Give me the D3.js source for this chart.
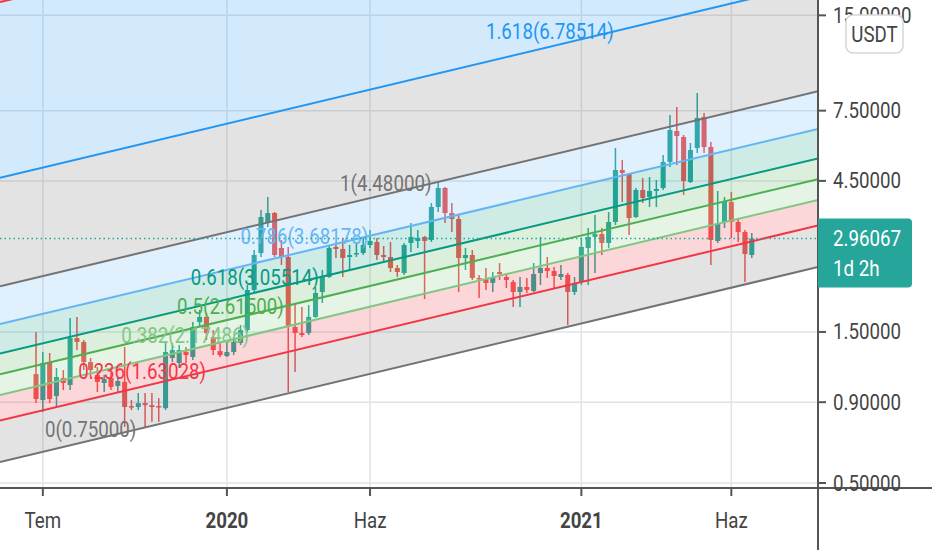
<!DOCTYPE html>
<html><head><meta charset="utf-8">
<script src="https://cdn.jsdelivr.net/npm/d3@7"></script>
<style>html,body{margin:0;padding:0;background:#fff;overflow:hidden}svg{display:block;font-family:Roboto,"Noto Sans",sans-serif}</style>
</head><body>
<svg id="chart" width="932" height="550"></svg>
<script>
// ---------- DATA ----------
const dates = ["2019-06-24","2019-07-01","2019-07-08","2019-07-15","2019-07-22","2019-07-29","2019-08-05","2019-08-12","2019-08-19","2019-08-26","2019-09-02","2019-09-09","2019-09-16","2019-09-23","2019-09-30","2019-10-07","2019-10-14","2019-10-21","2019-10-28","2019-11-04","2019-11-11","2019-11-18","2019-11-25","2019-12-02","2019-12-09","2019-12-16","2019-12-23","2019-12-30",
"2020-01-06","2020-01-13","2020-01-20","2020-01-27","2020-02-03","2020-02-10","2020-02-17","2020-02-24","2020-03-02","2020-03-09","2020-03-16","2020-03-23","2020-03-30","2020-04-06","2020-04-13","2020-04-20","2020-04-27","2020-05-04","2020-05-11","2020-05-18","2020-05-25","2020-06-01","2020-06-08","2020-06-15","2020-06-22","2020-06-29","2020-07-06","2020-07-13","2020-07-20","2020-07-27","2020-08-03","2020-08-10","2020-08-17","2020-08-24","2020-08-31","2020-09-07","2020-09-14","2020-09-21","2020-09-28","2020-10-05","2020-10-12","2020-10-19","2020-10-26","2020-11-02","2020-11-09","2020-11-16","2020-11-23","2020-11-30","2020-12-07","2020-12-14","2020-12-21","2020-12-28",
"2021-01-04","2021-01-11","2021-01-18","2021-01-25","2021-02-01","2021-02-08","2021-02-15","2021-02-22","2021-03-01","2021-03-08","2021-03-15","2021-03-22","2021-03-29","2021-04-05","2021-04-12","2021-04-19","2021-04-26","2021-05-03","2021-05-10","2021-05-17","2021-05-24","2021-05-31","2021-06-07","2021-06-14","2021-06-21","2021-06-28"];

const open  = [1.104,0.914,1.205,0.941,1.073,1.020,1.435,1.395,1.205,1.096,1.035,1.073,1.013,1.043,0.875,0.869,0.894,0.881,0.875,0.862,
1.241,1.197,1.296,1.250,1.612,1.673,1.446,1.305,1.259,1.296,1.384,1.521,2.035,2.663,3.313,3.562,2.763,2.587,1.555,1.488,
1.488,1.673,2.006,2.237,2.783,2.743,2.587,2.644,2.663,2.823,2.886,2.625,2.587,2.388,2.303,2.865,2.907,2.993,2.928,3.722,
4.273,3.562,3.411,2.568,2.625,2.221,2.205,2.142,2.320,2.237,2.157,2.006,2.080,2.020,2.303,2.388,2.337,2.237,2.270,2.006,
2.157,2.763,2.993,3.059,2.865,3.337,4.871,4.731,3.460,4.212,4.003,4.181,4.273,5.163,6.469,6.193,4.464,5.717,7.161,5.758,
2.907,3.337,3.860,3.337,3.104,2.625];
const high  = [1.499,1.296,1.287,1.154,1.137,1.661,1.673,1.415,1.241,1.162,1.096,1.112,1.081,1.345,0.914,0.962,0.962,0.962,0.927,1.384,
1.384,1.364,1.345,1.612,1.760,1.722,1.521,1.384,1.384,1.446,1.578,2.111,2.722,3.641,4.003,3.589,2.928,2.783,1.851,1.798,
1.824,2.080,2.354,2.823,2.886,2.971,2.823,2.865,2.993,3.149,2.971,2.803,2.886,2.441,2.865,3.313,3.149,3.015,3.831,4.464,
4.304,3.831,3.511,2.763,2.722,2.270,2.388,2.320,2.476,2.303,2.189,2.237,2.221,2.476,2.993,2.587,2.405,2.441,2.303,2.237,
2.971,3.195,3.511,3.195,3.589,5.717,5.238,4.766,4.273,4.596,4.629,4.529,5.433,7.266,7.703,6.283,5.928,8.527,7.372,5.972,
4.181,4.003,4.151,3.435,3.149,3.081];
const low   = [0.894,0.838,0.894,0.869,0.983,0.983,1.315,1.137,1.081,0.969,0.969,0.983,0.969,0.752,0.850,0.850,0.752,0.780,0.780,0.850,
1.205,1.154,1.197,1.223,1.555,1.415,1.268,1.250,1.250,1.268,1.364,1.499,1.991,2.587,3.218,2.587,2.441,0.969,1.121,1.446,
1.467,1.661,1.851,2.221,2.568,2.237,2.354,2.587,2.625,2.763,2.531,2.476,2.320,2.237,2.270,2.683,2.763,1.906,2.886,3.589,
3.313,3.104,2.006,2.354,2.189,1.920,2.035,2.006,2.189,2.065,1.798,1.798,1.991,2.006,2.111,2.221,2.065,2.189,1.578,1.962,
2.111,2.111,2.303,2.625,2.763,3.265,3.860,3.037,3.435,3.831,3.722,3.722,4.212,4.978,5.051,4.062,4.431,5.512,5.512,2.441,
2.865,3.195,2.971,2.886,2.157,2.568];
const close = [0.921,1.197,0.921,1.081,1.035,1.435,1.395,1.205,1.137,1.043,1.065,1.006,1.050,0.869,0.869,0.894,0.881,0.869,0.869,1.296,
1.315,1.315,1.268,1.555,1.673,1.488,1.315,1.268,1.296,1.395,1.521,2.035,2.625,3.460,3.562,2.625,2.587,1.555,1.488,1.467,
1.673,1.991,2.237,2.763,2.743,2.568,2.625,2.663,2.823,2.907,2.625,2.587,2.388,2.320,2.823,2.993,2.971,2.907,3.722,4.273,
3.562,3.411,2.568,2.625,2.221,2.205,2.142,2.237,2.286,2.189,2.006,2.080,2.035,2.286,2.388,2.337,2.253,2.286,2.006,2.142,
2.783,2.993,3.059,2.865,3.337,4.871,4.766,3.435,4.212,3.974,4.181,4.242,5.163,6.516,6.238,4.496,5.634,7.109,5.758,2.928,
3.289,3.860,3.337,3.104,2.644,2.96067];

const lastPrice = 2.96067;
const lastPriceText = "2.96067";
const countdownText = "1d 2h";
const currencyText = "USDT";

const xTickDates  = ["2019-07-01","2020-01-06","2020-06-01","2021-01-04","2021-06-07"];
const xTickLabels = ["Tem","2020","Haz","2021","Haz"];
const xTickBold   = [false,true,false,true,false];
const yTicks = [0.5,0.9,1.5,4.5,7.5,15];

const xDomain = ["2019-05-18","2021-09-04"];
const yDomain = [0.4822,16.77];

// Fibonacci channel (drawn linear in log-price)
const fibLevels = [0,0.236,0.382,0.5,0.618,0.786,1,1.618,2.618,3.618];
const fibColors = ["#737373","#f23645","#81c784","#4caf50","#089981","#64b5f6","#737373","#2196f3","#f23645","#9c27b0"];
const fibLabels = ["0(0.75000)","0.236(1.63028)","0.382(2.17486)","0.5(2.61500)","0.618(3.05514)","0.786(3.68178)","1(4.48000)","1.618(6.78514)","2.618(10.51514)","3.618(14.24514)"];
const channelDates = ["2019-05-18","2021-09-04"];
const channelBase  = [0.5825,2.4055];   // level 0 price at both dates
const channelTop0  = 2.09;              // level 1 price at first date
const labelDates   = ["2019-10-05","2020-08-03"]; // label right-end for level 0 and level 1

// ---------- DRAW ----------
const W = 932, H = 550, PW = 818, PH = 488;
const parse = d3.utcParse("%Y-%m-%d");
const svg = d3.select("#chart");
const x = d3.scaleUtc().domain(xDomain.map(parse)).range([0, PW]);
const y = d3.scaleLog().domain(yDomain).range([PH, 0]);

svg.append("defs").append("clipPath").attr("id","plot")
  .append("rect").attr("x",0).attr("y",0).attr("width",PW).attr("height",PH);

function txt(g, px, py, s, o) {
  o = Object.assign({size:22, anchor:"start", fill:"#4a4a4a", weight:400, sx:0.85}, o||{});
  return g.append("text")
    .attr("transform", `translate(${px},${py}) scale(${o.sx},1)`)
    .attr("text-anchor", o.anchor).attr("dominant-baseline","central")
    .style("font-size", o.size+"px").style("font-weight", o.weight)
    .attr("fill", o.fill).text(s);
}

// grid
const grid = svg.append("g");
xTickDates.forEach(d => {
  grid.append("line").attr("x1",x(parse(d))).attr("x2",x(parse(d))).attr("y1",0).attr("y2",PH)
    .attr("stroke","#e0e3e8").attr("stroke-width",1.5);
});
yTicks.forEach(v => {
  grid.append("line").attr("x1",0).attr("x2",PW).attr("y1",y(v)).attr("y2",y(v))
    .attr("stroke","#e0e3e8").attr("stroke-width",1.5);
});

// candles
const plot = svg.append("g").attr("clip-path","url(#plot)");
const bw = (x(parse("2019-07-08")) - x(parse("2019-07-01"))) * 0.74;
const n = Math.min(dates.length, open.length, high.length, low.length, close.length);
const upC = "#26a69a", dnC = "#ef5350";
const cg = plot.append("g");
for (let i = 0; i < n; i++) {
  const cx = x(parse(dates[i]));
  const col = close[i] >= open[i] ? upC : dnC;
  cg.append("line").attr("x1",cx).attr("x2",cx).attr("y1",y(high[i])).attr("y2",y(low[i]))
    .attr("stroke",col).attr("stroke-width",1.5);
  const top = y(Math.max(open[i],close[i])), bot = y(Math.min(open[i],close[i]));
  cg.append("rect").attr("x",cx-bw/2).attr("y",top).attr("width",bw).attr("height",Math.max(1.5,bot-top))
    .attr("fill",col);
}

// fib channel
const t0 = parse(channelDates[0]), t1 = parse(channelDates[1]);
const lb0 = Math.log(channelBase[0]), lb1 = Math.log(channelBase[1]);
const wLn = Math.log(channelTop0) - lb0;
function levelPrice(k, t) {
  const f = (t - t0) / (t1 - t0);
  return Math.exp(lb0 + (lb1 - lb0) * f + k * wLn);
}
const fg = plot.append("g");
for (let i = 0; i < fibLevels.length - 1; i++) {
  const a = fibLevels[i], b = fibLevels[i+1];
  const pts = [[t0,a],[t1,a],[t1,b],[t0,b]].map(([t,k]) => [x(t), y(levelPrice(k,t))]);
  fg.append("path").attr("d", d3.line()(pts) + "Z").attr("fill", fibColors[i]).attr("fill-opacity",0.2);
}
fibLevels.forEach((k,i) => {
  fg.append("line").attr("x1",x(t0)).attr("y1",y(levelPrice(k,t0)))
    .attr("x2",x(t1)).attr("y2",y(levelPrice(k,t1)))
    .attr("stroke",fibColors[i]).attr("stroke-width",2);
});
const la = parse(labelDates[0]), lbD = parse(labelDates[1]);
fibLevels.forEach((k,i) => {
  const t = new Date(+la + (lbD - la) * k);
  txt(fg, x(t), y(levelPrice(k,t)), fibLabels[i], {anchor:"end", fill:fibColors[i]});
});

// last price dotted line
plot.append("line").attr("x1",0).attr("x2",PW).attr("y1",y(lastPrice)).attr("y2",y(lastPrice))
  .attr("stroke",upC).attr("stroke-width",1.5).attr("stroke-dasharray","1.5,3");

// axes
const ax = svg.append("g");
ax.append("line").attr("x1",0).attr("x2",W).attr("y1",PH).attr("y2",PH).attr("stroke","#555").attr("stroke-width",2);
ax.append("line").attr("x1",PW).attr("x2",PW).attr("y1",0).attr("y2",H).attr("stroke","#555").attr("stroke-width",2);
xTickDates.forEach((d,i) => {
  const px = x(parse(d));
  ax.append("line").attr("x1",px).attr("x2",px).attr("y1",PH).attr("y2",PH+8).attr("stroke","#555").attr("stroke-width",2);
  txt(ax, px, 520, xTickLabels[i], {anchor:"middle", weight: xTickBold[i] ? 700 : 400, fill:"#444"});
});
yTicks.forEach(v => {
  const py = y(v);
  ax.append("line").attr("x1",PW).attr("x2",PW+8).attr("y1",py).attr("y2",py).attr("stroke","#555").attr("stroke-width",2);
  txt(ax, 833, py, v.toFixed(5), {fill:"#444"});
});

// currency box
ax.append("rect").attr("x",846).attr("y",15).attr("width",57).attr("height",38).attr("rx",7)
  .attr("fill","#fff").attr("stroke","#d6d6d6").attr("stroke-width",1.5);
txt(ax, 874.5, 34, currencyText, {anchor:"middle", fill:"#444"});

// last price label
const lp = y(lastPrice);
ax.append("path").attr("d", `M${PW},${lp-20} H${912-4} Q912,${lp-20} 912,${lp-16} V${lp+45} Q912,${lp+49} ${912-4},${lp+49} H${PW} Z`)
  .attr("fill","#26a69a");
txt(ax, 833, lp, lastPriceText, {fill:"#fff"});
txt(ax, 833, lp+30, countdownText, {fill:"#fff"});
</script>
</body></html>
